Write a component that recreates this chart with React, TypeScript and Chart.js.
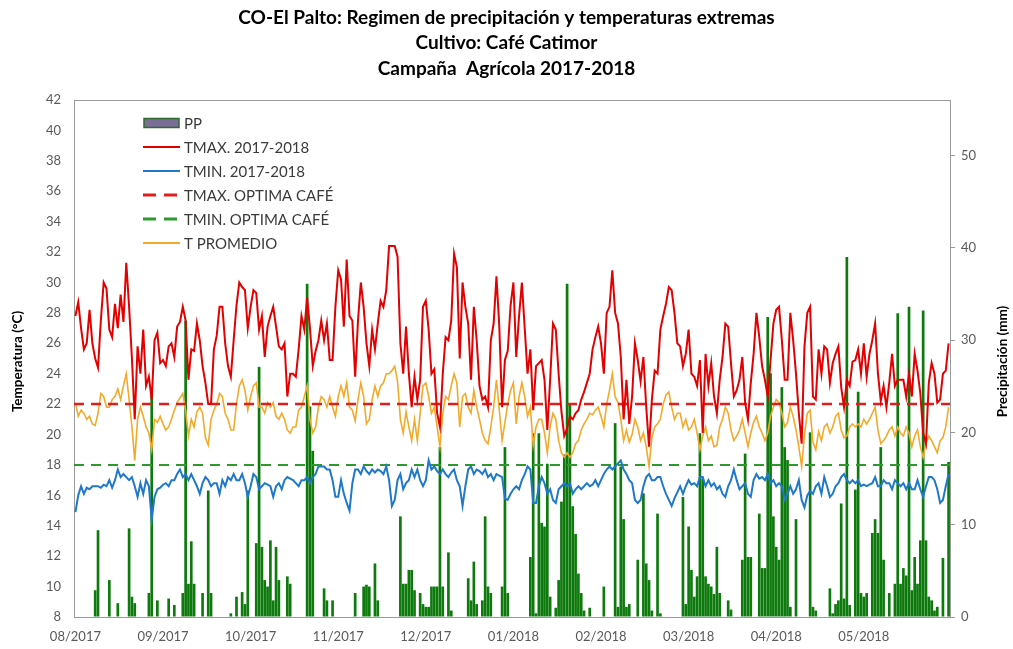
import React, { useEffect, useRef } from "react";
import { Chart, registerables } from "chart.js";

Chart.register(...registerables);

const FONT = 'Lato, "Liberation Sans", Arial, sans-serif';

const titleLines = [
  "CO-El Palto: Regimen de precipitación y temperaturas extremas",
  "Cultivo: Café Catimor",
  "Campaña  Agrícola 2017-2018",
];
const leftAxisTitle = "Temperatura (°C)";
const rightAxisTitle = "Precipitación (mm)";

// x-axis month labels and the day index where each one sits
const monthLabels = ["08/2017", "09/2017", "10/2017", "11/2017", "12/2017", "01/2018", "02/2018", "03/2018", "04/2018", "05/2018"];
const monthTickDays = [0, 31, 62, 93, 124, 155, 186, 217, 248, 279];
const ppTicks = [0, 10, 20, 30, 40, 50];

const tmaxOptima = 22;
const tminOptima = 18;

// Daily precipitation (mm), one value per day
const pp = [
  0, 0, 0, 0, 0, 0, 0, 2.9, 9.4, 0,
  0, 0, 4.0, 0, 0, 1.5, 0, 0, 0, 9.6,
  2.2, 1.5, 0, 0, 0, 0, 2.6, 24.6, 0, 1.8,
  0, 0, 0, 2.0, 0, 1.3, 0, 0, 2.6, 32.1,
  3.6, 8.2, 3.6, 0, 0, 2.6, 0, 13.7, 2.6, 0,
  0, 0, 0, 0, 0, 0.4, 0, 2.2, 0, 2.7,
  1.4, 13.7, 0, 0, 8.0, 27.1, 7.6, 4.0, 3.3, 8.3,
  1.8, 7.6, 4.0, 0, 0, 4.4, 3.6, 0, 0, 0,
  0, 0, 36.1, 22.8, 18.0, 0, 0, 0, 3.1, 1.8,
  0, 1.8, 0, 0, 0, 0, 0, 0, 0, 2.6,
  0, 0, 3.3, 3.5, 3.3, 0, 5.8, 1.8, 0, 0,
  0, 0, 0, 0, 0, 10.9, 3.6, 3.6, 5.1, 5.1,
  2.9, 0, 2.6, 1.4, 1.1, 1.1, 3.3, 3.3, 3.3, 18.4,
  3.3, 0, 7.0, 0.7, 0, 0, 0, 0, 0, 4.2,
  1.8, 6.0, 1.4, 0, 1.8, 10.9, 3.3, 2.6, 0, 0,
  0, 3.3, 18.4, 2.6, 0, 0, 0, 0, 0, 0,
  0, 6.5, 19.9, 0.4, 19.9, 10.2, 9.8, 16.6, 2.2, 0,
  1.0, 4.0, 12.5, 17.6, 36.1, 23.0, 12.0, 9.0, 4.7, 2.6,
  0.7, 0, 1.0, 0, 0, 0, 0, 3.3, 0, 0,
  0, 21.0, 1.1, 16.3, 10.6, 1.1, 1.4, 0, 0, 6.2,
  0, 13.4, 5.8, 4.0, 0.7, 0, 11.2, 0.4, 0, 0,
  0, 0, 0, 0, 0, 13.0, 1.4, 9.8, 5.1, 2.2,
  4.4, 19.9, 15.0, 4.4, 3.6, 3.3, 2.5, 7.6, 2.6, 0,
  0, 1.8, 0.8, 0, 0, 0, 6.2, 17.7, 6.5, 6.5,
  0, 0, 11.2, 5.3, 5.3, 32.5, 26.4, 10.9, 7.6, 6.2,
  24.9, 18.4, 17.0, 1.1, 0, 10.6, 0, 0, 0, 0,
  20.0, 1.1, 0.7, 0, 0, 0, 0, 3.1, 0.4, 1.4,
  1.8, 12.3, 2.0, 39.0, 1.3, 0, 13.8, 24.4, 2.6, 2.2,
  2.6, 0, 9.1, 10.6, 9.1, 18.4, 6.2, 0, 2.6, 0,
  3.6, 32.9, 3.6, 5.3, 4.5, 33.6, 2.9, 6.5, 3.6, 8.3,
  33.2, 8.3, 2.2, 1.8, 0.7, 1.1, 0, 6.4, 0, 16.8,
];

// Daily maximum temperature (°C)
const tmax = [
  27.8, 28.7, 27.0, 25.6, 26.0, 28.2, 26.0, 25.0, 24.4, 27.5,
  30.0, 29.6, 26.9, 26.4, 28.6, 27.0, 29.2, 27.4, 31.3, 28.4,
  25.0, 21.0, 25.8, 24.0, 26.9, 23.2, 23.8, 22.3, 26.2, 26.7,
  24.7, 24.9, 24.5, 25.8, 26.0, 25.1, 27.1, 27.4, 28.4, 27.5,
  23.6, 25.6, 25.5, 27.3, 26.2, 24.5, 23.4, 22.0, 22.0, 25.6,
  26.5, 28.4, 28.4, 26.0, 24.5, 23.8, 26.2, 28.5, 30.0, 29.7,
  29.5, 27.0, 28.4, 29.5, 29.3, 26.9, 27.8, 25.1, 27.1, 27.8,
  28.4, 27.1, 25.8, 25.6, 26.0, 22.5, 24.0, 24.0, 23.8, 25.6,
  27.8, 26.9, 29.0, 27.0, 24.5, 25.5, 26.2, 27.5, 26.2, 27.3,
  24.9, 24.9, 28.4, 30.8, 30.2, 27.1, 31.5, 27.8, 27.5, 23.8,
  27.5, 30.0, 28.4, 26.0, 24.5, 26.9, 25.6, 27.3, 28.8, 28.4,
  29.5, 32.4, 32.4, 32.4, 31.7, 26.0, 24.0, 27.1, 24.0, 21.8,
  23.8, 22.3, 23.6, 28.4, 28.8, 26.9, 24.0, 24.3, 21.4, 20.5,
  24.0, 26.4, 26.2, 27.5, 31.9, 31.0, 25.0, 30.0, 28.4, 27.3,
  23.6, 28.4, 26.2, 23.2, 22.3, 22.5, 21.8, 26.2, 27.3, 30.4,
  27.1, 21.8, 24.9, 25.5, 28.5, 30.0, 25.1, 27.8, 30.0, 27.0,
  24.0, 25.6, 21.6, 24.5, 24.7, 24.9, 23.6, 20.3, 23.6, 27.3,
  26.9, 24.0, 21.5, 19.9, 20.4, 21.2, 21.0, 21.4, 21.6, 22.3,
  22.8, 23.4, 24.0, 25.6, 26.4, 27.1, 26.0, 24.0, 28.0, 28.4,
  30.8, 28.0, 27.3, 25.1, 21.0, 23.6, 20.7, 22.5, 26.0, 24.9,
  23.5, 25.1, 21.8, 19.2, 22.3, 24.2, 24.0, 26.9, 27.8, 28.6,
  29.7, 29.5, 28.0, 26.0, 25.8, 24.5, 25.3, 26.9, 24.0, 23.8,
  23.2, 24.9, 20.1, 25.3, 23.2, 24.7, 22.5, 21.4, 23.6, 25.1,
  27.3, 27.1, 24.7, 22.5, 22.9, 23.6, 25.1, 22.1, 21.0, 23.4,
  25.3, 28.0, 26.4, 24.5, 23.6, 22.5, 24.9, 27.3, 28.2, 28.4,
  26.2, 23.6, 23.6, 28.0, 26.2, 24.0, 21.4, 19.4, 25.8, 28.0,
  28.4, 22.5, 22.3, 25.6, 24.0, 25.8, 25.6, 23.4, 24.7, 25.3,
  25.8, 23.1, 21.8, 23.6, 23.2, 24.8, 24.9, 25.6, 24.0, 26.0,
  23.8, 25.3, 26.2, 27.3, 24.0, 22.2, 23.2, 21.8, 23.4, 25.3,
  23.2, 23.6, 23.6, 23.6, 22.5, 24.0, 22.5, 25.3, 24.2, 22.7,
  20.1, 19.4, 23.4, 24.7, 24.0, 22.1, 22.3, 24.0, 24.2, 26.0,
];

// Daily minimum temperature (°C)
const tmin = [
  14.9, 16.0, 16.6, 16.1, 16.5, 16.4, 16.6, 16.6, 16.6, 16.5,
  16.7, 16.6, 17.0, 16.5, 17.0, 17.7, 17.2, 17.4, 17.2, 17.0,
  17.2, 16.6, 15.9, 16.8, 16.1, 17.0, 16.6, 14.4, 15.9, 16.4,
  16.5, 16.7, 16.8, 16.6, 17.0, 17.0, 17.4, 17.7, 17.2, 17.4,
  17.0, 17.4, 17.0, 16.6, 16.1, 16.8, 17.2, 17.0, 16.6, 16.8,
  16.8, 16.1, 17.0, 16.6, 17.2, 17.0, 17.4, 17.0, 17.0, 17.4,
  16.8, 15.9, 16.6, 17.4, 17.2, 16.4, 16.6, 16.8, 16.7, 16.6,
  15.9, 16.6, 16.8, 16.4, 17.0, 17.2, 17.1, 17.0, 16.8, 16.6,
  17.0, 17.0, 17.2, 16.8, 17.2, 17.4, 17.9, 17.9, 17.9, 17.7,
  17.7, 17.0, 15.9, 15.9, 17.0, 16.1, 15.5, 15.0, 16.8, 17.7,
  17.7, 17.4, 17.9, 17.6, 17.4, 17.7, 17.5, 17.7, 17.6, 17.4,
  17.9, 17.0, 15.3, 15.7, 17.0, 17.4, 16.4, 16.8, 17.0, 17.7,
  17.2, 17.7, 17.0, 16.6, 17.0, 18.3, 17.7, 17.9, 17.6, 17.4,
  17.7, 17.4, 17.2, 17.5, 17.7, 17.0, 16.6, 15.3, 16.6, 17.7,
  17.9, 17.4, 17.7, 17.6, 17.4, 17.7, 17.2, 17.4, 17.0, 17.4,
  17.3, 17.2, 15.8, 15.7, 16.1, 16.4, 16.6, 16.4, 17.0, 17.4,
  17.9, 17.7, 15.5, 15.5, 16.6, 17.2, 16.8, 16.1, 16.4, 15.7,
  15.5, 16.4, 16.6, 16.8, 16.6, 16.8, 16.1, 16.4, 16.6, 16.4,
  16.6, 16.8, 16.6, 16.7, 17.0, 16.6, 17.0, 17.4, 17.7, 17.9,
  17.7, 17.9, 18.1, 18.3, 17.7, 17.4, 17.0, 16.8, 15.7, 15.5,
  15.7, 16.6, 17.2, 17.4, 17.0, 17.0, 17.2, 17.2, 16.6, 16.1,
  15.7, 15.3, 15.8, 16.2, 16.6, 16.1, 16.6, 17.0, 16.7, 16.8,
  16.6, 17.2, 17.2, 16.6, 17.0, 16.6, 16.8, 16.4, 16.6, 16.1,
  15.9, 16.6, 17.0, 17.7, 17.0, 16.4, 16.6, 16.8, 16.1, 15.9,
  17.0, 17.4, 17.1, 17.2, 17.0, 17.4, 16.8, 17.0, 16.6, 16.8,
  16.6, 15.7, 16.1, 16.6, 16.1, 16.4, 17.0, 15.7, 15.2, 16.0,
  16.3, 16.1, 16.6, 16.8, 16.1, 17.2, 16.6, 15.9, 16.1, 16.6,
  16.8, 17.2, 17.4, 17.0, 16.8, 17.0, 16.8, 17.0, 16.6, 16.7,
  16.6, 16.7, 16.8, 17.2, 16.6, 16.6, 17.0, 16.8, 16.8, 16.4,
  17.0, 16.8, 16.6, 16.8, 16.4, 16.8, 16.4, 16.4, 17.0, 16.4,
  15.9, 16.6, 17.2, 17.2, 17.0, 16.4, 15.5, 15.7, 16.6, 17.4,
];

// Daily mean temperature (°C)
const tprom = [
  22.1, 21.2, 21.6, 21.4, 21.0, 21.2, 20.7, 20.6, 21.4, 22.7,
  22.5, 21.8, 21.8, 22.3, 22.5, 23.0, 22.3, 23.2, 24.0, 22.3,
  20.5, 18.3, 21.0, 21.8, 21.2, 20.5, 20.1, 19.0, 21.0, 20.8,
  21.2, 20.7, 20.3, 20.5, 21.0, 21.6, 22.1, 22.4, 22.7, 21.6,
  19.9, 21.0, 20.5, 21.5, 21.8, 21.4, 19.8, 19.3, 21.0, 21.6,
  22.0, 22.7, 22.5, 21.4, 21.0, 20.3, 20.3, 22.0, 23.2, 23.6,
  22.9, 21.6, 22.5, 23.2, 23.4, 21.8, 21.8, 21.4, 22.1, 21.8,
  22.1, 21.2, 21.0, 21.4, 21.0, 20.3, 20.1, 20.5, 20.5, 21.6,
  21.8, 22.5, 23.2, 21.0, 20.1, 20.5, 21.8, 22.5, 22.3, 21.8,
  22.5, 21.8, 21.2, 22.5, 23.2, 22.5, 23.4, 21.8, 21.6, 20.9,
  22.3, 23.4, 22.5, 20.7, 21.0, 22.3, 23.2, 22.5, 23.2, 23.4,
  24.0, 24.0, 24.2, 24.5, 23.5, 21.0, 20.1, 21.5, 20.5, 19.6,
  21.0, 19.6, 21.4, 23.2, 23.4, 22.5, 21.4, 21.8, 20.5, 19.2,
  21.4, 22.5, 22.3, 23.2, 24.0, 23.4, 20.5, 22.5, 22.7, 21.8,
  21.4, 22.9, 21.8, 21.0, 20.1, 19.6, 19.4, 20.5, 21.8, 23.6,
  21.6, 19.6, 20.8, 22.0, 22.9, 23.4, 20.7, 22.5, 23.4, 22.5,
  21.2, 21.8, 19.3, 20.5, 21.0, 21.0, 20.1, 18.8, 20.5, 21.4,
  21.0, 19.6, 18.8, 18.5, 18.8, 18.5, 18.8, 19.4, 19.6, 20.3,
  20.7, 21.0, 21.4, 21.3, 21.6, 21.8, 21.2, 20.5, 22.0, 22.9,
  24.0, 22.5, 22.1, 21.0, 19.6, 20.3, 19.5, 20.0, 21.0, 20.5,
  19.6, 20.1, 19.2, 17.9, 19.8, 20.5, 20.7, 21.0, 22.0, 22.6,
  22.8, 21.8, 21.0, 21.4, 21.4, 20.5, 21.0, 20.3, 20.5, 21.0,
  20.1, 19.0, 19.9, 20.5, 19.6, 19.9, 19.2, 19.3, 20.5, 21.0,
  21.8, 21.4, 20.3, 19.6, 19.9, 20.3, 21.0, 20.1, 19.2, 20.1,
  20.8, 21.2, 20.5, 20.1, 19.6, 20.1, 21.2, 21.8, 22.3, 22.1,
  21.4, 20.5, 20.8, 21.8, 21.2, 20.3, 19.2, 17.9, 20.0, 21.4,
  21.6, 19.5, 19.0, 20.2, 19.6, 20.5, 20.7, 20.1, 20.5, 21.2,
  21.4, 20.3, 19.8, 19.9, 20.5, 20.7, 20.5, 20.7, 20.5, 21.0,
  20.7, 21.0, 21.4, 21.8, 20.3, 19.4, 19.6, 19.9, 20.3, 20.5,
  19.9, 20.5, 20.1, 19.9, 20.5, 20.1, 19.2, 19.9, 20.3, 19.2,
  18.5, 19.4, 19.9, 19.6, 19.2, 18.8, 19.6, 19.8, 20.5, 21.8,
];

const COLORS = {
  pp: "#0e7a0e",
  ppLegendFill: "#7a6e96",
  ppLegendBorder: "#2f6a2f",
  tmax: "#e30000",
  tmin: "#1f78c8",
  tprom: "#f3aa2a",
  tmaxOpt: "#e01e1e",
  tminOpt: "#2e9a2e",
  tick: "#595959",
  frame: "#9a9a9a",
};

const whiteBg = {
  id: "whiteBg",
  beforeDraw(chart: any) {
    const { ctx, width, height } = chart;
    ctx.save();
    ctx.fillStyle = "#ffffff";
    ctx.fillRect(0, 0, width, height);
    ctx.restore();
  },
};

const plotFrame = {
  id: "plotFrame",
  beforeDatasetsDraw(chart: any) {
    const { ctx, chartArea: a } = chart;
    ctx.save();
    ctx.strokeStyle = COLORS.frame;
    ctx.lineWidth = 1;
    ctx.strokeRect(Math.round(a.left) + 0.5, Math.round(a.top) + 0.5, Math.round(a.right - a.left), Math.round(a.bottom - a.top));
    ctx.restore();
  },
};

const axisTitles = {
  id: "axisTitles",
  afterDraw(chart: any) {
    const { ctx, chartArea: a } = chart;
    const cy = (a.top + a.bottom) / 2 + 3;
    const draw = (text: string, x: number) => {
      ctx.save();
      ctx.fillStyle = "#000";
      ctx.font = `bold 13.5px ${FONT}`;
      ctx.textAlign = "center";
      ctx.textBaseline = "middle";
      ctx.translate(x, cy);
      ctx.rotate(-Math.PI / 2);
      ctx.fillText(text, 0, 0);
      ctx.restore();
    };
    draw(leftAxisTitle, 18);
    draw(rightAxisTitle, 1003);
  },
};

const insideLegend = {
  id: "insideLegend",
  afterDraw(chart: any) {
    const { ctx } = chart;
    const x0 = 143;
    const x1 = 180;
    const textX = 184;
    const y0 = 123;
    const step = 24;
    ctx.save();
    ctx.font = `15px ${FONT}`;
    ctx.textBaseline = "middle";
    ctx.textAlign = "left";
    chart.data.datasets.forEach((ds: any, i: number) => {
      const y = y0 + i * step;
      if (ds.type === "bar") {
        ctx.fillStyle = ds.legendFill;
        ctx.strokeStyle = ds.legendBorder;
        ctx.lineWidth = 1.5;
        ctx.beginPath();
        ctx.rect(x0 + 1, y - 4.5, x1 - x0 - 2, 9);
        ctx.fill();
        ctx.stroke();
      } else {
        ctx.strokeStyle = ds.borderColor;
        ctx.lineWidth = ds.borderDash ? 3 : 2;
        ctx.setLineDash(ds.borderDash ? [13, 8] : []);
        ctx.beginPath();
        ctx.moveTo(x0, y);
        ctx.lineTo(x1, y);
        ctx.stroke();
        ctx.setLineDash([]);
      }
      ctx.fillStyle = "#3a3a3a";
      ctx.fillText(ds.label, textX, y + 1);
    });
    ctx.restore();
  },
};

export default function App() {
  const canvasRef = useRef<HTMLCanvasElement | null>(null);

  useEffect(() => {
    const canvas = canvasRef.current;
    if (!canvas) return;
    const toPoints = (arr: number[]) => arr.map((y, i) => ({ x: i, y }));
    const lastX = pp.length - 0.5;

    const chart = new Chart(canvas, {
      type: "bar",
      data: {
        datasets: [
          {
            type: "bar",
            label: "PP",
            data: toPoints(pp),
            yAxisID: "y2",
            backgroundColor: COLORS.pp,
            borderWidth: 0,
            barPercentage: 0.95,
            categoryPercentage: 1,
            order: 2,
            legendFill: COLORS.ppLegendFill,
            legendBorder: COLORS.ppLegendBorder,
          } as any,
          {
            type: "line",
            label: "TMAX. 2017-2018",
            data: toPoints(tmax),
            yAxisID: "y",
            borderColor: COLORS.tmax,
            borderWidth: 2,
            pointRadius: 0,
            tension: 0,
            order: 1,
          },
          {
            type: "line",
            label: "TMIN. 2017-2018",
            data: toPoints(tmin),
            yAxisID: "y",
            borderColor: COLORS.tmin,
            borderWidth: 2,
            pointRadius: 0,
            tension: 0,
            order: 1,
          },
          {
            type: "line",
            label: "TMAX. OPTIMA CAFÉ",
            data: [
              { x: -0.5, y: tmaxOptima },
              { x: lastX, y: tmaxOptima },
            ],
            yAxisID: "y",
            borderColor: COLORS.tmaxOpt,
            borderWidth: 2.5,
            borderDash: [10, 7],
            pointRadius: 0,
            order: 1,
          },
          {
            type: "line",
            label: "TMIN. OPTIMA CAFÉ",
            data: [
              { x: -0.5, y: tminOptima },
              { x: lastX, y: tminOptima },
            ],
            yAxisID: "y",
            borderColor: COLORS.tminOpt,
            borderWidth: 2,
            borderDash: [10, 7],
            pointRadius: 0,
            order: 1,
          },
          {
            type: "line",
            label: "T PROMEDIO",
            data: toPoints(tprom),
            yAxisID: "y",
            borderColor: COLORS.tprom,
            borderWidth: 1.6,
            pointRadius: 0,
            tension: 0,
            order: 1,
          },
        ],
      },
      options: {
        responsive: false,
        maintainAspectRatio: false,
        animation: false,
        devicePixelRatio: 1,
        layout: { padding: { left: 0, right: 0, top: 0, bottom: 0 } },
        font: { family: FONT },
        plugins: {
          legend: { display: false },
          tooltip: { enabled: false },
          title: {
            display: true,
            text: titleLines,
            color: "#000",
            font: { family: FONT, size: 19, weight: "bold", lineHeight: 25.5 / 19 },
            padding: { top: 5, bottom: 18.5 },
          },
        },
        scales: {
          x: {
            type: "linear",
            min: -0.5,
            max: lastX,
            offset: false,
            grid: { display: false, drawTicks: false },
            border: { display: false },
            ticks: {
              autoSkip: false,
              maxRotation: 0,
              minRotation: 0,
              padding: 12,
              color: COLORS.tick,
              font: { family: FONT, size: 13 },
              callback: (_v: any, i: number) => monthLabels[i] ?? "",
            },
            afterBuildTicks: (s: any) => {
              s.ticks = monthTickDays.map((v) => ({ value: v }));
            },
            afterFit: (s: any) => {
              s.height = 32;
            },
          },
          y: {
            type: "linear",
            position: "left",
            min: 8,
            max: 42,
            grid: { display: false, drawTicks: false },
            border: { display: false },
            ticks: {
              stepSize: 2,
              padding: 13,
              color: COLORS.tick,
              font: { family: FONT, size: 13 },
            },
            afterFit: (s: any) => {
              s.width = 74;
            },
          },
          y2: {
            type: "linear",
            position: "right",
            min: 0,
            max: 56,
            grid: { display: true, drawOnChartArea: false, drawTicks: true, tickLength: 5, color: COLORS.frame },
            border: { display: false },
            ticks: {
              padding: 6,
              color: COLORS.tick,
              font: { family: FONT, size: 13 },
            },
            afterBuildTicks: (s: any) => {
              s.ticks = ppTicks.map((v) => ({ value: v }));
            },
            afterFit: (s: any) => {
              s.width = 63;
            },
          },
        },
      } as any,
      plugins: [whiteBg, plotFrame, axisTitles, insideLegend],
    });

    return () => chart.destroy();
  }, []);

  return (
    <div style={{ position: "fixed", left: 0, top: 0, width: 1013, height: 649, background: "#fff" }}>
      <canvas ref={canvasRef} width={1013} height={649} style={{ display: "block", width: 1013, height: 649 }} />
    </div>
  );
}
